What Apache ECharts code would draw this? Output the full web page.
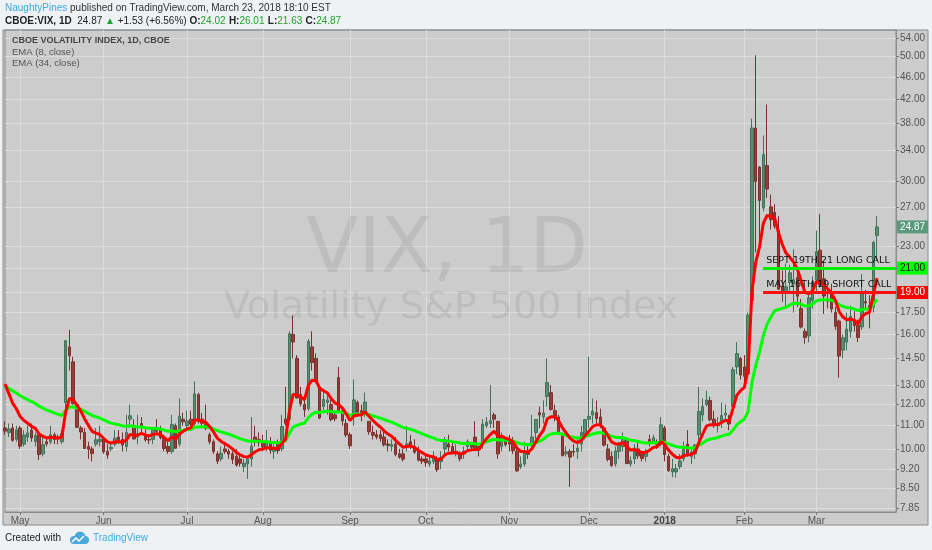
<!DOCTYPE html>
<html><head><meta charset="utf-8">
<script src="https://cdn.jsdelivr.net/npm/echarts@6/dist/echarts.min.js"></script>
<style>html,body{margin:0;padding:0;background:#eff2f5;}#chart{width:932px;height:550px;}</style>
</head><body><div id="chart"></div>
<script>
// ---------- DATA (CBOE:VIX daily) ----------
const dates = [
'2017-04-25','2017-04-26','2017-04-27','2017-04-28',
'2017-05-01','2017-05-02','2017-05-03','2017-05-04','2017-05-05','2017-05-08','2017-05-09','2017-05-10','2017-05-11','2017-05-12','2017-05-15','2017-05-16','2017-05-17','2017-05-18','2017-05-19','2017-05-22','2017-05-23','2017-05-24','2017-05-25','2017-05-26','2017-05-30','2017-05-31',
'2017-06-01','2017-06-02','2017-06-05','2017-06-06','2017-06-07','2017-06-08','2017-06-09','2017-06-12','2017-06-13','2017-06-14','2017-06-15','2017-06-16','2017-06-19','2017-06-20','2017-06-21','2017-06-22','2017-06-23','2017-06-26','2017-06-27','2017-06-28','2017-06-29','2017-06-30',
'2017-07-03','2017-07-05','2017-07-06','2017-07-07','2017-07-10','2017-07-11','2017-07-12','2017-07-13','2017-07-14','2017-07-17','2017-07-18','2017-07-19','2017-07-20','2017-07-21','2017-07-24','2017-07-25','2017-07-26','2017-07-27','2017-07-28','2017-07-31',
'2017-08-01','2017-08-02','2017-08-03','2017-08-04','2017-08-07','2017-08-08','2017-08-09','2017-08-10','2017-08-11','2017-08-14','2017-08-15','2017-08-16','2017-08-17','2017-08-18','2017-08-21','2017-08-22','2017-08-23','2017-08-24','2017-08-25','2017-08-28','2017-08-29','2017-08-30','2017-08-31',
'2017-09-01','2017-09-05','2017-09-06','2017-09-07','2017-09-08','2017-09-11','2017-09-12','2017-09-13','2017-09-14','2017-09-15','2017-09-18','2017-09-19','2017-09-20','2017-09-21','2017-09-22','2017-09-25','2017-09-26','2017-09-27','2017-09-28','2017-09-29',
'2017-10-02','2017-10-03','2017-10-04','2017-10-05','2017-10-06','2017-10-09','2017-10-10','2017-10-11','2017-10-12','2017-10-13','2017-10-16','2017-10-17','2017-10-18','2017-10-19','2017-10-20','2017-10-23','2017-10-24','2017-10-25','2017-10-26','2017-10-27','2017-10-30','2017-10-31',
'2017-11-01','2017-11-02','2017-11-03','2017-11-06','2017-11-07','2017-11-08','2017-11-09','2017-11-10','2017-11-13','2017-11-14','2017-11-15','2017-11-16','2017-11-17','2017-11-20','2017-11-21','2017-11-22','2017-11-24','2017-11-27','2017-11-28','2017-11-29','2017-11-30',
'2017-12-01','2017-12-04','2017-12-05','2017-12-06','2017-12-07','2017-12-08','2017-12-11','2017-12-12','2017-12-13','2017-12-14','2017-12-15','2017-12-18','2017-12-19','2017-12-20','2017-12-21','2017-12-22','2017-12-26','2017-12-27','2017-12-28','2017-12-29',
'2018-01-02','2018-01-03','2018-01-04','2018-01-05','2018-01-08','2018-01-09','2018-01-10','2018-01-11','2018-01-12','2018-01-16','2018-01-17','2018-01-18','2018-01-19','2018-01-22','2018-01-23','2018-01-24','2018-01-25','2018-01-26','2018-01-29','2018-01-30','2018-01-31',
'2018-02-01','2018-02-02','2018-02-05','2018-02-06','2018-02-07','2018-02-08','2018-02-09','2018-02-12','2018-02-13','2018-02-14','2018-02-15','2018-02-16','2018-02-20','2018-02-21','2018-02-22','2018-02-23','2018-02-26','2018-02-27','2018-02-28',
'2018-03-01','2018-03-02','2018-03-05','2018-03-06','2018-03-07','2018-03-08','2018-03-09','2018-03-12','2018-03-13','2018-03-14','2018-03-15','2018-03-16','2018-03-19','2018-03-20','2018-03-21','2018-03-22','2018-03-23'
];
// empty future slots on the right of the last bar
const futureDates = ['2018-03-26','2018-03-27','2018-03-28','2018-03-29','2018-03-30'];

const opens = [
10.90,10.70,10.90,10.40,
10.90,10.20,10.50,10.80,10.30,10.60,9.80,10.30,10.30,10.60,10.50,10.30,12.10,15.20,14.30,12.00,10.90,10.70,10.10,10.00,10.20,10.30,
10.40,9.90,10.00,10.20,10.50,10.40,10.10,11.30,11.00,10.50,11.10,10.60,10.40,10.40,10.90,10.80,10.50,10.10,9.90,11.00,10.20,11.30,
11.00,11.30,11.10,12.50,11.30,11.10,10.60,10.30,9.80,9.60,10.00,9.90,9.80,9.70,9.60,9.30,9.40,9.60,10.50,10.40,
10.30,10.10,10.30,9.90,10.20,10.00,11.30,11.30,16.00,14.50,12.50,12.00,11.80,15.20,14.50,12.90,11.90,12.10,12.00,11.50,13.40,11.70,11.10,
10.60,11.40,12.10,11.70,11.60,11.20,10.70,10.60,10.60,10.50,10.20,10.10,10.20,9.80,9.80,10.10,10.30,10.10,9.90,9.60,
9.60,9.40,9.50,9.60,9.50,10.00,10.20,10.10,9.80,9.80,9.80,10.10,10.20,10.50,10.10,10.20,11.00,11.10,11.50,11.20,10.10,10.40,
10.30,10.30,9.90,9.30,9.40,9.90,10.20,10.70,11.60,11.40,12.40,12.60,11.70,11.40,10.60,9.80,9.90,9.90,9.90,10.20,10.60,
11.30,11.50,11.60,11.40,10.90,10.00,9.70,9.40,9.90,10.10,10.40,9.40,9.60,10.00,9.80,9.70,10.40,10.30,10.30,10.20,
10.90,9.70,9.10,9.10,9.30,9.60,10.20,9.70,9.80,10.60,11.50,12.00,12.20,11.30,11.00,11.20,11.50,11.30,11.90,14.00,14.50,
14.00,13.60,18.40,37.30,31.80,26.90,32.00,27.00,26.40,24.50,19.50,19.10,19.80,19.70,20.20,17.80,16.20,15.90,18.40,
20.00,22.60,20.10,18.40,19.00,17.50,16.90,15.00,15.50,16.20,17.00,16.60,16.50,18.30,18.00,17.90,24.02
];
const highs = [
11.20,11.10,11.10,11.00,
11.00,10.80,11.00,11.10,10.70,10.70,10.50,10.50,11.00,10.70,10.60,10.80,15.60,16.30,14.60,12.10,11.00,10.90,10.30,10.10,10.90,11.00,
10.50,10.20,10.30,10.80,10.80,10.70,11.50,12.00,11.30,11.50,11.40,10.90,10.60,10.90,11.30,11.00,10.60,10.40,11.50,11.10,12.30,11.60,
11.70,11.70,13.20,12.60,11.60,12.00,10.70,10.40,9.90,10.10,10.30,10.00,9.90,10.00,9.80,9.60,9.70,11.40,11.00,10.70,
10.60,10.80,10.50,10.20,10.40,11.50,12.90,16.20,17.30,14.70,12.90,12.40,15.70,16.20,14.80,13.00,12.80,12.60,12.40,11.70,14.00,11.90,11.30,
10.70,13.30,12.20,12.00,12.60,11.20,11.00,10.80,10.80,10.80,10.40,10.40,10.50,10.00,10.00,11.00,10.60,10.40,10.10,9.70,
9.80,9.70,9.90,9.70,9.90,10.50,10.60,10.30,10.20,9.90,10.10,10.40,10.30,11.20,10.10,11.30,11.40,13.00,11.60,11.20,10.70,10.50,
10.60,10.50,10.00,9.70,10.30,10.20,11.50,11.30,11.90,12.20,14.50,13.00,12.00,11.50,10.70,10.10,10.00,10.20,10.50,11.00,11.30,
14.60,12.30,12.20,11.80,11.00,10.20,9.90,10.10,10.30,10.70,10.50,9.70,10.20,10.30,9.90,10.00,10.60,10.60,10.40,11.40,
11.00,9.80,9.60,9.40,9.80,10.30,10.80,10.00,10.20,12.90,12.30,12.70,12.40,11.70,11.40,12.10,12.00,11.50,14.00,15.50,14.60,
14.70,17.50,38.80,50.30,31.90,36.20,41.10,28.40,27.30,26.00,20.80,21.40,21.30,22.70,20.90,18.50,16.40,18.90,20.30,
24.50,26.20,21.60,19.30,19.70,17.90,17.00,16.00,17.50,18.00,17.60,17.00,20.50,19.20,18.80,23.50,26.01
];
const lows = [
10.60,10.50,10.30,10.30,
10.00,10.10,10.30,10.30,10.10,9.56,9.70,10.10,10.20,10.20,10.20,10.20,11.80,13.80,12.00,10.90,10.40,10.00,9.60,9.50,10.10,10.10,
9.80,9.60,9.90,10.10,10.20,9.90,9.90,10.90,10.40,10.20,10.60,10.30,10.20,10.20,10.60,10.40,9.90,9.80,9.80,10.00,10.10,11.00,
10.90,10.90,11.00,11.10,10.90,10.80,10.20,9.80,9.40,9.50,9.80,9.60,9.40,9.30,9.30,9.10,8.84,9.30,10.10,10.10,
9.90,9.90,9.80,9.60,9.80,9.90,11.00,11.20,14.50,12.30,11.90,11.40,11.70,13.80,13.10,11.30,11.60,11.50,11.20,11.20,11.60,11.00,10.50,
10.00,11.00,11.40,11.20,11.40,10.60,10.40,10.40,10.30,10.10,9.90,9.90,9.70,9.60,9.50,9.90,10.00,9.80,9.50,9.40,
9.30,9.30,9.40,9.10,9.20,9.80,9.90,9.80,9.70,9.50,9.60,9.90,9.90,10.00,9.70,10.00,10.90,10.90,10.90,9.60,9.90,10.10,
9.90,9.80,9.10,9.20,9.30,9.60,10.00,10.40,10.90,11.10,11.90,11.70,11.20,10.60,9.70,9.70,8.56,9.70,9.60,9.90,10.40,
10.90,11.10,11.10,10.90,10.10,9.50,9.30,9.30,9.60,9.90,9.40,9.30,9.40,9.60,9.50,9.50,10.10,10.20,10.00,10.10,
9.50,9.10,8.90,8.90,9.20,9.50,9.70,9.40,9.60,10.30,11.20,11.90,11.20,10.90,10.70,10.90,11.30,10.80,11.70,13.60,13.30,
13.00,13.50,16.80,22.40,22.90,26.50,28.00,24.60,24.70,19.20,18.30,17.80,19.00,17.50,17.90,16.40,15.40,15.50,17.80,
19.10,19.40,17.40,17.80,17.50,16.30,13.40,14.50,15.00,15.80,16.20,15.50,16.30,17.80,16.40,17.50,21.63
];
const closes = [
10.76,10.85,10.36,10.82,
10.11,10.59,10.68,10.46,10.57,9.77,10.18,10.21,10.60,10.40,10.42,10.65,15.59,14.66,12.04,10.93,10.72,10.02,9.99,9.81,10.38,10.41,
9.89,9.75,10.07,10.45,10.39,10.16,10.70,11.46,10.42,10.64,10.90,10.38,10.37,10.86,10.75,10.48,10.02,9.90,11.06,10.03,11.44,11.18,
11.22,11.07,12.54,11.19,11.11,10.89,10.30,9.90,9.51,9.82,9.89,9.79,9.58,9.36,9.43,9.43,9.60,10.11,10.29,10.26,
10.09,10.28,9.95,10.03,9.93,10.96,11.11,16.04,15.51,12.33,12.04,11.74,15.55,14.26,13.19,11.35,12.25,12.23,11.28,11.32,11.70,11.22,10.59,
10.13,12.23,11.63,11.55,12.12,10.73,10.58,10.50,10.44,10.17,10.15,10.18,9.78,9.67,9.59,10.21,10.17,9.87,9.55,9.51,
9.45,9.51,9.63,9.19,9.65,10.33,10.08,9.85,9.91,9.61,9.91,10.31,10.07,10.05,9.97,11.07,11.16,11.23,11.30,9.80,10.50,10.18,
10.20,9.93,9.14,9.40,9.89,9.78,10.50,11.29,11.50,11.59,13.13,11.76,11.43,10.65,9.73,9.88,9.67,9.87,10.03,10.70,11.28,
11.43,11.68,11.33,11.02,10.16,9.58,9.34,9.92,10.18,10.49,9.42,9.53,10.03,9.72,9.62,9.90,10.25,10.47,10.18,11.04,
9.77,9.15,9.22,9.22,9.52,10.08,9.82,9.88,10.16,11.66,11.91,12.22,11.27,11.03,11.10,11.47,11.58,11.08,13.84,14.79,13.54,
13.47,17.31,37.32,29.98,27.73,33.46,29.06,25.61,24.97,19.26,19.13,19.46,20.60,20.02,18.72,16.49,15.80,18.59,19.85,
22.47,19.59,18.73,18.36,17.76,16.54,14.64,15.78,16.35,17.23,16.59,15.80,19.02,18.20,17.86,23.34,24.87
];
// EMA values at the first visible bar (the indicators were warmed up on earlier bars)
const ema8Start = 13.05;
const ema34Start = 12.95;

// price-scale tick labels (log scale)
const priceTicks = [54, 50, 46, 42, 38, 34, 30, 27, 23, 21, 19, 17.5, 16, 14.5, 13, 12, 11, 10, 9.2, 8.5, 7.85];
const priceMin = 7.72, priceMax = 55.8;

// drawn annotations
const longCall = {price: 21, from: '2018-02-08', text: 'SEPT 19TH 21 LONG CALL'};
const shortCall = {price: 19, from: '2018-02-08', text: 'MAY 16TH 19 SHORT CALL'};
const monthNames = ['Jan','Feb','Mar','Apr','May','Jun','Jul','Aug','Sep','Oct','Nov','Dec'];

// ---------- BUILD ----------
const allDates = dates.concat(futureDates);
const lastCat = allDates[allDates.length - 1];
const candleData = dates.map((d, i) => [opens[i], closes[i], lows[i], highs[i]]);
function ema(values, period, start) {
  const k = 2 / (period + 1);
  let e = start;
  return values.map((v, i) => { if (i > 0) e = v * k + e * (1 - k); return +e.toFixed(3); });
}
const ema8 = ema(closes, 8, ema8Start);
const ema34 = ema(closes, 34, ema34Start);
const isMonthStart = (i) => i > 0 && allDates[i].slice(0, 7) !== allDates[i - 1].slice(0, 7);

const n = closes.length;
const lastO = opens[n - 1], lastH = highs[n - 1], lastL = lows[n - 1], lastC = closes[n - 1];
const chg = lastC - closes[n - 2];
const chgPct = chg / closes[n - 2] * 100;

const NARROW = "'Liberation Sans', Arial, sans-serif";
const SANS = "'Liberation Sans', Arial, sans-serif";
const GRIDC = '#dcdcdc';

const chart = echarts.init(document.getElementById('chart'));
const lnTicks = priceTicks.map(Math.log);

function noteLines(note, color, boxColor, boxText) {
  const ls = {color: color, width: 3, type: 'solid'};
  return [
    [{coord: [note.from, note.price], lineStyle: ls,
      label: {show: true, position: 'insideStartTop', formatter: note.text, color: '#111',
              fontFamily: "'DejaVu Sans', sans-serif", fontSize: 9.5, distance: 3}},
     {coord: [lastCat, note.price]}],
    [{coord: [note.from, note.price], lineStyle: ls,
      label: {show: true, position: 'end', formatter: note.price.toFixed(2), color: boxText,
              backgroundColor: boxColor, padding: [2, 3, 1, 3], fontFamily: SANS, fontSize: 10, distance: 1}},
     {coord: [lastCat, note.price]}]
  ];
}

const option = {
  animation: false,
  backgroundColor: '#eff2f5',
  grid: {left: 5, right: 36, top: 30, bottom: 38, show: true, borderColor: '#8c8c8c', borderWidth: 1, backgroundColor: 'transparent'},
  xAxis: {
    type: 'category', data: allDates, boundaryGap: false,
    axisLine: {lineStyle: {color: '#8c8c8c'}},
    axisTick: {show: true, interval: isMonthStart, length: 3, lineStyle: {color: '#777'}},
    axisLabel: {interval: isMonthStart, color: '#555', fontFamily: SANS, fontSize: 10, margin: 4,
      formatter: (v) => { const m = +v.slice(5, 7); return m === 1 ? '{y|' + v.slice(0, 4) + '}' : monthNames[m - 1]; },
      rich: {y: {fontWeight: 'bold', color: '#444', fontFamily: SANS, fontSize: 10}}},
    splitLine: {show: true, interval: isMonthStart, lineStyle: {color: GRIDC, width: 1}}
  },
  yAxis: [
    {type: 'log', logBase: 10, min: priceMin, max: priceMax, show: false},
    {type: 'value', position: 'right', min: Math.log(priceMin), max: Math.log(priceMax),
     axisLine: {show: true, lineStyle: {color: '#8c8c8c'}},
     axisTick: {show: true, customValues: lnTicks, length: 3, lineStyle: {color: '#777'}},
     axisLabel: {customValues: lnTicks, formatter: (v) => Math.exp(v).toFixed(2), color: '#555', fontFamily: SANS, fontSize: 10, margin: 4},
     splitLine: {show: true, lineStyle: {color: GRIDC, width: 1}}}
  ],
  graphic: [
    {type: 'rect', z: -10, shape: {x: 3, y: 30, width: 925, height: 495}, style: {fill: '#cccccc', stroke: '#8c8c8c', lineWidth: 1}},
    {type: 'text', z: 1, x: 447, y: 252, style: {text: 'VIX, 1D', fontFamily: "'DejaVu Sans', sans-serif", fontSize: 76, fill: 'rgba(0,0,0,0.07)', align: 'center', verticalAlign: 'middle'}},
    {type: 'text', z: 1, x: 451, y: 308, style: {text: 'Volatility S&P 500 Index', fontFamily: "'DejaVu Sans', sans-serif", fontSize: 38, fill: 'rgba(0,0,0,0.07)', align: 'center', verticalAlign: 'middle'}},
    {type: 'text', x: 5, y: 8, style: {
      text: '{u|NaughtyPines}{t| published on TradingView.com, March 23, 2018 18:10 EST}',
      verticalAlign: 'middle',
      rich: {u: {fill: '#3fa9e0', fontFamily: NARROW, fontSize: 10}, t: {fill: '#333', fontFamily: NARROW, fontSize: 10}}}},
    {type: 'text', x: 5, y: 21, style: {
      text: '{b|CBOE:VIX, 1D}{t|  ' + lastC.toFixed(2) + ' }{g|▲}{t| +' + chg.toFixed(2) + ' (+' + chgPct.toFixed(2) + '%) }' +
            '{b|O:}{g|' + lastO.toFixed(2) + '} {b|H:}{g|' + lastH.toFixed(2) + '} {b|L:}{g|' + lastL.toFixed(2) + '} {b|C:}{g|' + lastC.toFixed(2) + '}',
      verticalAlign: 'middle',
      rich: {b: {fill: '#222', fontWeight: 'bold', fontFamily: NARROW, fontSize: 10},
             t: {fill: '#222', fontFamily: NARROW, fontSize: 10},
             g: {fill: '#1fa52a', fontFamily: NARROW, fontSize: 10}}}},
    {type: 'text', z: 5, x: 12, y: 41, style: {text: 'CBOE VOLATILITY INDEX, 1D, CBOE', fill: '#444', fontWeight: 'bold', fontFamily: NARROW, fontSize: 9, verticalAlign: 'middle'}},
    {type: 'text', z: 5, x: 12, y: 52, style: {text: 'EMA (8, close)', fill: '#555', fontFamily: NARROW, fontSize: 9.5, verticalAlign: 'middle'}},
    {type: 'text', z: 5, x: 12, y: 63, style: {text: 'EMA (34, close)', fill: '#555', fontFamily: NARROW, fontSize: 9.5, verticalAlign: 'middle'}},
    {type: 'text', x: 5, y: 538, style: {text: 'Created with', fill: '#222', fontFamily: NARROW, fontSize: 10, verticalAlign: 'middle'}},
    {type: 'group', x: 69, y: 531, children: [
      {type: 'circle', shape: {cx: 5, cy: 9, r: 4}, style: {fill: '#4aa8dc'}},
      {type: 'circle', shape: {cx: 11, cy: 6, r: 5.5}, style: {fill: '#4aa8dc'}},
      {type: 'circle', shape: {cx: 16, cy: 9, r: 4}, style: {fill: '#4aa8dc'}},
      {type: 'rect', shape: {x: 5, y: 9, width: 11, height: 4}, style: {fill: '#4aa8dc'}},
      {type: 'polyline', shape: {points: [[3, 11], [7, 7], [10, 10], [15, 5]]}, style: {stroke: '#fff', lineWidth: 1.5, fill: null}}
    ]},
    {type: 'text', x: 93, y: 538, style: {text: 'TradingView', fill: '#3fa9e0', fontFamily: NARROW, fontSize: 10, verticalAlign: 'middle'}}
  ],
  series: [
    {type: 'candlestick', name: 'VIX', data: candleData, yAxisIndex: 0, barWidth: 3,
     itemStyle: {color: '#53906f', color0: '#983c37', borderColor: '#42725a', borderColor0: '#7a302c', borderWidth: 1}},
    {type: 'line', name: 'notes', data: [], yAxisIndex: 0, clip: false, silent: true,
     markLine: {symbol: ['none', 'none'], silent: true, animation: false,
       data: noteLines(longCall, '#00ee00', '#00ff00', '#111').concat(noteLines(shortCall, '#ff1010', '#ff0000', '#fff')).concat([
         [{coord: [dates[n - 1], lastC], lineStyle: {color: 'rgba(0,0,0,0)', width: 1},
           label: {show: true, position: 'end', formatter: lastC.toFixed(2), color: '#fff', backgroundColor: '#5b9b7c',
                   padding: [2, 3, 1, 3], fontFamily: SANS, fontSize: 10, distance: 1}},
          {coord: [lastCat, lastC]}]
       ])}},
    {type: 'line', name: 'EMA 34', data: ema34, yAxisIndex: 0, symbol: 'none', lineStyle: {color: '#00ff00', width: 3}, itemStyle: {color: '#00ff00'}},
    {type: 'line', name: 'EMA 8', data: ema8, yAxisIndex: 0, symbol: 'none', lineStyle: {color: '#ff0000', width: 3}, itemStyle: {color: '#ff0000'}}
  ]
};
chart.setOption(option);
</script></body></html>
